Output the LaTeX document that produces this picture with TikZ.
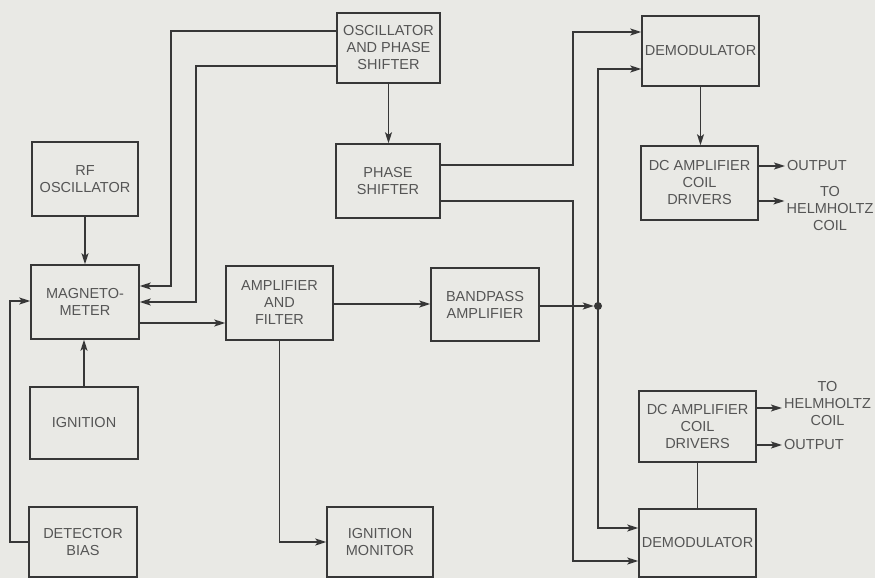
\documentclass[tikz,border=0pt]{standalone}
\usepackage{fontspec}
\setmainfont{Liberation Sans}
\usetikzlibrary{arrows.meta}
\definecolor{bg}{RGB}{233,233,229}
\definecolor{ink}{RGB}{55,55,55}
\definecolor{txt}{RGB}{85,85,85}
\begin{document}
\begin{tikzpicture}[x=1pt,y=-1pt,
  box/.style={draw=ink, line width=1.5pt, fill=none, text=txt, align=center,
    inner sep=0pt, font=\fontsize{14.5}{17}\selectfont},
  lbl/.style={text=txt, align=center, inner sep=2pt, font=\fontsize{14.5}{17}\selectfont},
  conn/.style={draw=ink, line width=1.5pt},
  arr/.style={conn, -{Stealth[length=11pt,width=7pt,inset=2.5pt]}}]
\fill[bg] (0,0) rectangle (875,578);
\useasboundingbox (0,0) rectangle (875,578);

\node[box, minimum width=103pt, minimum height=70pt] (osc) at (388.5,48) {OSCILLATOR\\AND PHASE\\SHIFTER};
\node[box, minimum width=106pt, minimum height=74pt] (rf) at (85,179) {RF\\OSCILLATOR};
\node[box, minimum width=104pt, minimum height=74pt] (ps) at (388,181) {PHASE\\SHIFTER};
\node[box, minimum width=108pt, minimum height=74pt] (mag) at (85,302) {MAGNETO-\\METER};
\node[box, minimum width=107pt, minimum height=74pt] (amp) at (279.5,303) {AMPLIFIER\\AND\\FILTER};
\node[box, minimum width=108pt, minimum height=73pt] (bp) at (485,304.5) {BANDPASS\\AMPLIFIER};
\node[box, minimum width=108pt, minimum height=72pt] (ign) at (84,423) {IGNITION};
\node[box, minimum width=108pt, minimum height=70pt] (det) at (83,542) {DETECTOR\\BIAS};
\node[box, minimum width=106pt, minimum height=70pt] (mon) at (380,542) {IGNITION\\MONITOR};
\node[box, minimum width=117pt, minimum height=70pt] (demA) at (700.5,51) {DEMODULATOR};
\node[box, minimum width=117pt, minimum height=74pt] (dcA) at (699.5,183) {DC AMPLIFIER\\COIL\\DRIVERS};
\node[box, minimum width=117pt, minimum height=71pt] (dcB) at (697.5,426.5) {DC AMPLIFIER\\COIL\\DRIVERS};
\node[box, minimum width=117pt, minimum height=68pt] (demB) at (697.5,543) {DEMODULATOR};

\node[circle, fill=ink, inner sep=0pt, minimum size=8pt] (j) at (598,306) {};

\node[lbl, anchor=west] (o1) at (785,166) {OUTPUT};
\node[lbl] (h1) at (830,209) {TO\\HELMHOLTZ\\COIL};
\node[lbl] (h2) at (827.5,404) {TO\\HELMHOLTZ\\COIL};
\node[lbl, anchor=west] (o2) at (782,445) {OUTPUT};

% oscillator and phase shifter to magnetometer
\draw[arr] (osc.west |- 0,31) -| (171,286) -- (mag.east |- 0,286);
\draw[arr] (osc.west |- 0,66) -| (196,302) -- (mag.east |- 0,302);
\draw[arr] (osc.south) -- (osc.south |- ps.north);
% left column
\draw[arr] (rf.south) -- (rf.south |- mag.north);
\draw[arr] (ign.north) -- (ign.north |- mag.south);
\draw[arr] (det.west) -| (10,301) -- (mag.west |- 0,301);
% signal chain
\draw[arr] (mag.east |- 0,323) -- (amp.west |- 0,323);
\draw[arr] (amp.east |- 0,304) -- (bp.west |- 0,304);
\draw[arr] (amp.south) |- (mon.west);
\draw[arr] (bp.east |- j) -- (j);
\draw[arr] (j.center) |- (demA.west |- 0,69);
\draw[arr] (j.center) |- (demB.west |- 0,528);
% phase shifter to demodulators
\draw[arr] (ps.east |- 0,165) -| (573,32) -- (demA.west |- 0,32);
\draw[arr] (ps.east |- 0,201) -| (573,561) -- (demB.west |- 0,561);
% demodulators and drivers
\draw[arr] (demA.south) -- (demA.south |- dcA.north);
\draw[conn] (dcB.south) -- (dcB.south |- demB.north);
% outputs
\draw[arr] (dcA.east |- o1) -- (o1.west);
\draw[arr] (dcA.east |- 0,201) -- (h1.west |- 0,201);
\draw[arr] (dcB.east |- 0,408) -- (h2.west |- 0,408);
\draw[arr] (dcB.east |- o2) -- (o2.west);
\end{tikzpicture}
\end{document}
